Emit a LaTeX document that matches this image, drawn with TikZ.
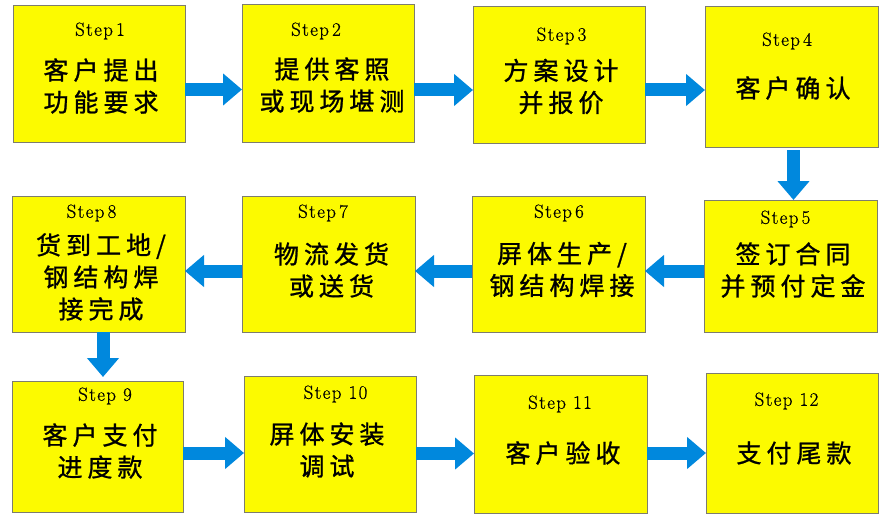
\documentclass[tikz,border=0pt]{standalone}
\usepackage{fontspec}
\newfontfamily\cjk{Noto Sans CJK SC}[LetterSpace=20, FakeBold=1]
\newfontfamily\stepfont{Latin Modern Roman}[LetterSpace=7, FakeBold=0.6]
\usepackage{xcolor}
\usetikzlibrary{arrows.meta}
\definecolor{boxyellow}{RGB}{252,250,0}
\definecolor{boxedge}{RGB}{125,125,110}
\definecolor{flowblue}{RGB}{0,136,221}
\begin{document}
\begin{tikzpicture}[x=1pt, y=-1pt,
  step box/.style={rectangle, draw=boxedge, fill=boxyellow, line width=0.9pt, inner sep=0pt, outer sep=0pt},
  step label/.style={font=\stepfont\fontsize{19}{22}\selectfont, inner sep=0pt},
  step text/.style={font=\cjk\fontsize{25}{32}\selectfont, align=center, inner sep=0pt},
  flow arrow/.style={draw=flowblue, line width=13pt, -{Triangle[length=19pt, width=31pt, fill=flowblue]}}]
\useasboundingbox (0,0) rectangle (884,519);
% boxes
\node[step box, minimum width=172pt, minimum height=137pt] (b1) at (99,73.5) {};
\node[step box, minimum width=172pt, minimum height=138pt] (b2) at (328,73) {};
\node[step box, minimum width=172pt, minimum height=137pt] (b3) at (559,74.5) {};
\node[step box, minimum width=173pt, minimum height=141pt] (b4) at (791.5,76.5) {};
\node[step box, minimum width=173pt, minimum height=132pt] (b5) at (790.5,266) {};
\node[step box, minimum width=173pt, minimum height=136pt] (b6) at (558.5,264) {};
\node[step box, minimum width=173pt, minimum height=136pt] (b7) at (328.5,264) {};
\node[step box, minimum width=173pt, minimum height=136pt] (b8) at (98.5,264) {};
\node[step box, minimum width=171pt, minimum height=131pt] (b9) at (97.5,446.5) {};
\node[step box, minimum width=172pt, minimum height=136pt] (b10) at (330,444) {};
\node[step box, minimum width=173pt, minimum height=138pt] (b11) at (560.5,444) {};
\node[step box, minimum width=172pt, minimum height=140pt] (b12) at (792,443) {};
% step labels
\node[step label] (s1) at (100,31) {Step\,1};
\node[step label] (s2) at (316,31) {Step\,2};
\node[step label] (s3) at (561.5,36) {Step\,3};
\node[step label] (s4) at (787,41) {Step\,4};
\node[step label] (s5) at (785.5,219) {Step\,5};
\node[step label] (s6) at (559,213) {Step\,6};
\node[step label] (s7) at (323,213) {Step\,7};
\node[step label] (s8) at (91.5,213) {Step\,8};
\node[step label] (s9) at (105,396) {Step 9};
\node[step label] (s10) at (335.5,394) {Step 10};
\node[step label] (s11) at (560,404) {Step 11};
\node[step label] (s12) at (786.5,401) {Step 12};
% texts
\node[step text] (t1) at (101,86) {客户提出\\功能要求};
\node[step text] (t2) at (332,85) {提供客照\\或现场堪测};
\node[step text] (t3) at (561,86.5) {方案设计\\并报价};
\node[step text] (t4) at (793,88) {客户确认};
\node[step text] (t5) at (793,270) {签订合同\\并预付定金};
\node[step text] (t6) at (562,269.5) {屏体生产/\\钢结构焊接};
\node[step text] (t7) at (331.5,270) {物流发货\\或送货};
\node[step text] (t8) at (101,277) {货到工地/\\钢结构焊\\接完成};
\node[step text] (t9) at (100,451) {客户支付\\进度款};
\node[step text] (t10) at (327,450) {屏体安装\\调试};
\node[step text] (t11) at (563,453) {客户验收};
\node[step text] (t12) at (794,453) {支付尾款};
% arrows
\draw[flow arrow] ([yshift=-16pt]b1.east) -- ([yshift=-16pt]b1.east -| b2.west);
\draw[flow arrow] ([yshift=-17pt]b2.east) -- ([yshift=-17pt]b2.east -| b3.west);
\draw[flow arrow] ([yshift=-15.5pt]b3.east) -- ([yshift=-15.5pt]b3.east -| b4.west);
\draw[flow arrow] ([xshift=2pt,yshift=-3pt]b4.south) -- ([xshift=2pt]b4.south |- b5.north);
\draw[flow arrow] ([yshift=-5pt]b5.west) -- ([yshift=-5pt]b5.west -| b6.east);
\draw[flow arrow] ([yshift=-7pt]b6.west) -- ([yshift=-7pt]b6.west -| b7.east);
\draw[flow arrow] ([yshift=-7pt]b7.west) -- ([yshift=-7pt]b7.west -| b8.east);
\draw[flow arrow] ([xshift=4.5pt]b8.south) -- ([xshift=4.5pt,yshift=4pt]b8.south |- b9.north);
\draw[flow arrow] ([yshift=-6.5pt]b9.east) -- ([yshift=-6.5pt]b9.east -| b10.west);
\draw[flow arrow] ([yshift=-9.5pt]b10.east) -- ([yshift=-9.5pt]b10.east -| b11.west);
\draw[flow arrow] ([yshift=-9pt]b11.east) -- ([yshift=-9pt]b11.east -| b12.west);
\end{tikzpicture}
\end{document}
